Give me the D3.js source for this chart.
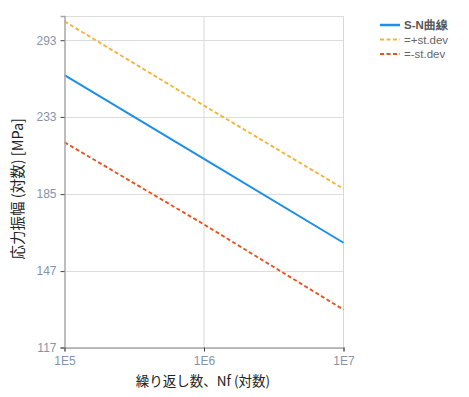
<!DOCTYPE html>
<html>
<head>
<meta charset="utf-8">
<script src="https://cdn.jsdelivr.net/npm/d3@7"></script>
<style>
  body { margin: 0; background: #fff; }
  svg { display: block; }
</style>
</head>
<body>
<svg id="chart" width="469" height="397"></svg>
<script>
// cycles (log axis)
var cycles = [1e5, 1e6, 1e7];
// stress amplitude, MPa
var snCurve = [264, 205.5, 160];
var plusDev = [310, 241, 188];
var minusDev = [216, 169, 131];
var yTicks = [117, 147, 185, 233, 293];
var xTicks = [1e5, 1e6, 1e7];
var seriesNames = ["S-N曲線", "=+st.dev", "=-st.dev"];

var svg = d3.select("#chart"),
    margin = {top: 16, left: 64.5, right: 125.5, bottom: 49.5},
    width = +svg.attr("width") - margin.left - margin.right,
    height = +svg.attr("height") - margin.top - margin.bottom,
    g = svg.append("g").attr("transform", "translate(" + margin.left + "," + margin.top + ")");

var x = d3.scaleLog().domain([1e5, 1e7]).range([0, width]);
var y = d3.scaleLog().domain([117, 315]).range([height, 0]);

var tickFont = "'Liberation Sans', Arial, sans-serif";
var jpFont = "'Noto Sans CJK JP', sans-serif";

// grid
g.append("g").selectAll("line")
    .data(yTicks)
  .enter().append("line")
    .attr("x1", 0).attr("x2", width)
    .attr("y1", function(d) { return Math.round(y(d)) + 0.5; })
    .attr("y2", function(d) { return Math.round(y(d)) + 0.5; })
    .attr("stroke", "#dcdcdc");
g.append("g").selectAll("line")
    .data(xTicks.slice(1))
  .enter().append("line")
    .attr("x1", function(d) { return x(d); })
    .attr("x2", function(d) { return x(d); })
    .attr("y1", 0).attr("y2", height)
    .attr("stroke", "#d8d8d8");
g.append("line")
    .attr("x1", 0).attr("x2", width)
    .attr("y1", 0.5).attr("y2", 0.5)
    .attr("stroke", "#dcdcdc");

// series
var series = [
  {name: seriesNames[1], values: plusDev, color: "#f4b43a", dash: "4,2.5", w: 1.9},
  {name: seriesNames[0], values: snCurve, color: "#1e8fe6", dash: null, w: 2},
  {name: seriesNames[2], values: minusDev, color: "#e8531f", dash: "4,2.5", w: 1.9}
];

var line = d3.line()
    .x(function(d) { return x(d[0]); })
    .y(function(d) { return y(d[1]); });

series.forEach(function(s) {
  g.append("path")
      .datum(cycles.map(function(c, i) { return [c, s.values[i]]; }))
      .attr("fill", "none")
      .attr("stroke", s.color)
      .attr("stroke-width", s.w)
      .attr("stroke-dasharray", s.dash)
      .attr("d", line);
});

// axes
var yAxis = g.append("g")
    .call(d3.axisLeft(y).tickValues(yTicks).tickFormat(d3.format("d")).tickSize(4).tickPadding(4));
yAxis.select(".domain").attr("stroke", "#a8a8a8").attr("stroke-width", 1.5);
yAxis.selectAll(".tick line").attr("stroke", "#444");
yAxis.selectAll("text").attr("fill", "#8593aa").style("font-family", tickFont).style("font-size", "12px");

var xAxis = g.append("g")
    .attr("transform", "translate(0," + height + ")")
    .call(d3.axisBottom(x).tickValues(xTicks)
      .tickFormat(function(d) { return "1E" + Math.round(Math.log10(d)); })
      .tickSize(4).tickPadding(5));
xAxis.select(".domain").attr("stroke", "#a8a8a8").attr("stroke-width", 1.5);
xAxis.selectAll(".tick line").attr("stroke", "#444");
xAxis.selectAll("text").attr("fill", "#8593aa").style("font-family", tickFont).style("font-size", "12px");

// axis titles
svg.append("text")
    .attr("transform", "translate(23," + (margin.top + height / 2 + 7) + ") rotate(-90)")
    .attr("text-anchor", "middle")
    .style("font-family", jpFont)
    .style("font-size", "14.5px")
    .attr("fill", "#222")
    .text("応力振幅 (対数) [MPa]");

svg.append("text")
    .attr("x", 203)
    .attr("y", 386)
    .attr("text-anchor", "middle")
    .style("font-family", jpFont)
    .style("font-size", "13.5px")
    .attr("fill", "#222")
    .text("繰り返し数、Nf (対数)");

// legend
var legendItems = [series[1], series[0], series[2]];
var legend = svg.append("g").attr("transform", "translate(380,25)");
legendItems.forEach(function(s, i) {
  var row = legend.append("g").attr("transform", "translate(0," + (i * 14.5) + ")");
  row.append("line")
      .attr("x1", 0).attr("x2", 20)
      .attr("stroke", s.color)
      .attr("stroke-width", s.dash ? 2 : 2.5)
      .attr("stroke-dasharray", s.dash);
  row.append("text")
      .attr("x", 24).attr("dy", "0.35em")
      .style("font-family", tickFont)
      .style("font-size", "11.5px")
      .style("font-weight", i === 0 ? "bold" : "normal")
      .attr("fill", i === 0 ? "#555" : "#666")
      .text(s.name);
});
</script>
</body>
</html>
